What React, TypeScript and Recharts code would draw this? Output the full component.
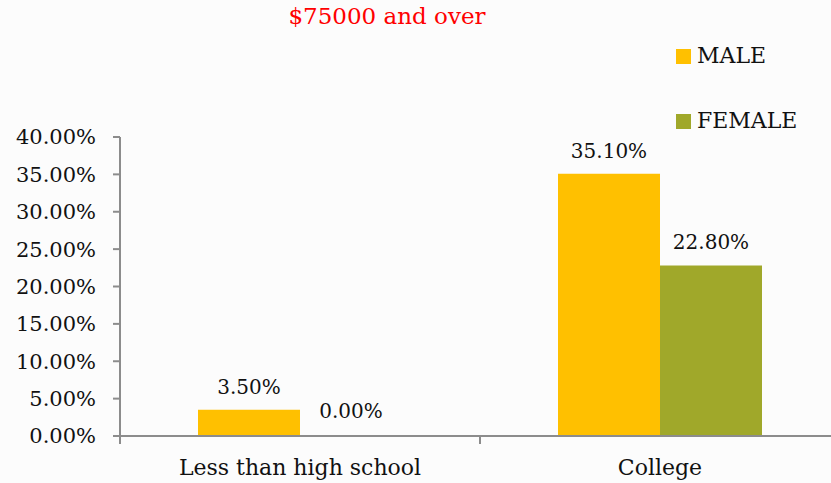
import { BarChart, Bar, XAxis, YAxis, LabelList } from "recharts";

const categories = ["Less than high school", "College"];
const male = [0.035, 0.351];
const female = [0.0, 0.228];
const yTicks = [0, 0.05, 0.1, 0.15, 0.2, 0.25, 0.3, 0.35, 0.4];

const data = categories.map((name, i) => ({ name, male: male[i], female: female[i] }));

const FONT = "'DejaVu Serif', 'Liberation Serif', serif";
const AXIS = "#8c8c8c";
const pct = (v: number) => `${(v * 100).toFixed(2)}%`;

function CategoryTick(props: any) {
  const { x, y, payload, index } = props;
  const off = payload.offset ?? 0;
  return (
    <g>
      <line x1={x - off} x2={x - off} y1={y - 8} y2={y} stroke={AXIS} strokeWidth={2} />
      {index === categories.length - 1 && (
        <line x1={x + off} x2={x + off} y1={y - 8} y2={y} stroke={AXIS} strokeWidth={2} />
      )}
      <text x={x} y={y + 31} textAnchor="middle" fontSize={22} fontFamily={FONT} fill="#111">
        {payload.value}
      </text>
    </g>
  );
}

function Legend() {
  const items = [
    { label: "MALE", color: "#FFC000", top: 45 },
    { label: "FEMALE", color: "#A0A82A", top: 110 },
  ];
  return (
    <>
      {items.map((it) => (
        <div key={it.label} style={{ position: "absolute", left: 676, top: it.top, display: "flex", alignItems: "center" }}>
          <div style={{ width: 15, height: 15, background: it.color, marginRight: 6 }} />
          <span style={{ fontFamily: FONT, fontSize: 22, color: "#111", lineHeight: "22px" }}>{it.label}</span>
        </div>
      ))}
    </>
  );
}

const labelStyle = { fontSize: 20, fontFamily: FONT, fill: "#111" };

export default function App() {
  return (
    <div style={{ position: "absolute", left: 0, top: 0, width: 831, height: 483, overflow: "hidden", background: "#fcfcfc" }}>
      <div style={{ position: "absolute", left: 0, width: 774, top: 3, textAlign: "center", color: "#ff0000", fontFamily: FONT, fontSize: 23 }}>
        $75000 and over
      </div>
      <Legend />
      <div style={{ position: "absolute", left: 0, top: 0 }}>
        <BarChart
          width={845}
          height={483}
          data={data}
          margin={{ top: 137, right: 5, bottom: 0, left: 0 }}
          barCategoryGap={78}
          barGap={0}
        >
          <XAxis
            dataKey="name"
            height={47}
            axisLine={{ stroke: AXIS, strokeWidth: 2 }}
            tickLine={false}
            tick={<CategoryTick />}
            interval={0}
          />
          <YAxis
            width={120}
            domain={[0, 0.4]}
            ticks={yTicks}
            tickFormatter={pct}
            axisLine={{ stroke: AXIS, strokeWidth: 2 }}
            tickLine={{ stroke: AXIS, strokeWidth: 2 }}
            tickSize={7}
            tickMargin={17}
            tick={{ fontSize: 21, fontFamily: FONT, fill: "#111" }}
          />
          <Bar dataKey="male" fill="#FFC000" isAnimationActive={false}>
            <LabelList dataKey="male" position="top" offset={16} formatter={pct} style={labelStyle} />
          </Bar>
          <Bar dataKey="female" fill="#A0A82A" minPointSize={1} isAnimationActive={false}>
            <LabelList dataKey="female" position="top" offset={17} formatter={pct} style={labelStyle} />
          </Bar>
        </BarChart>
      </div>
    </div>
  );
}
